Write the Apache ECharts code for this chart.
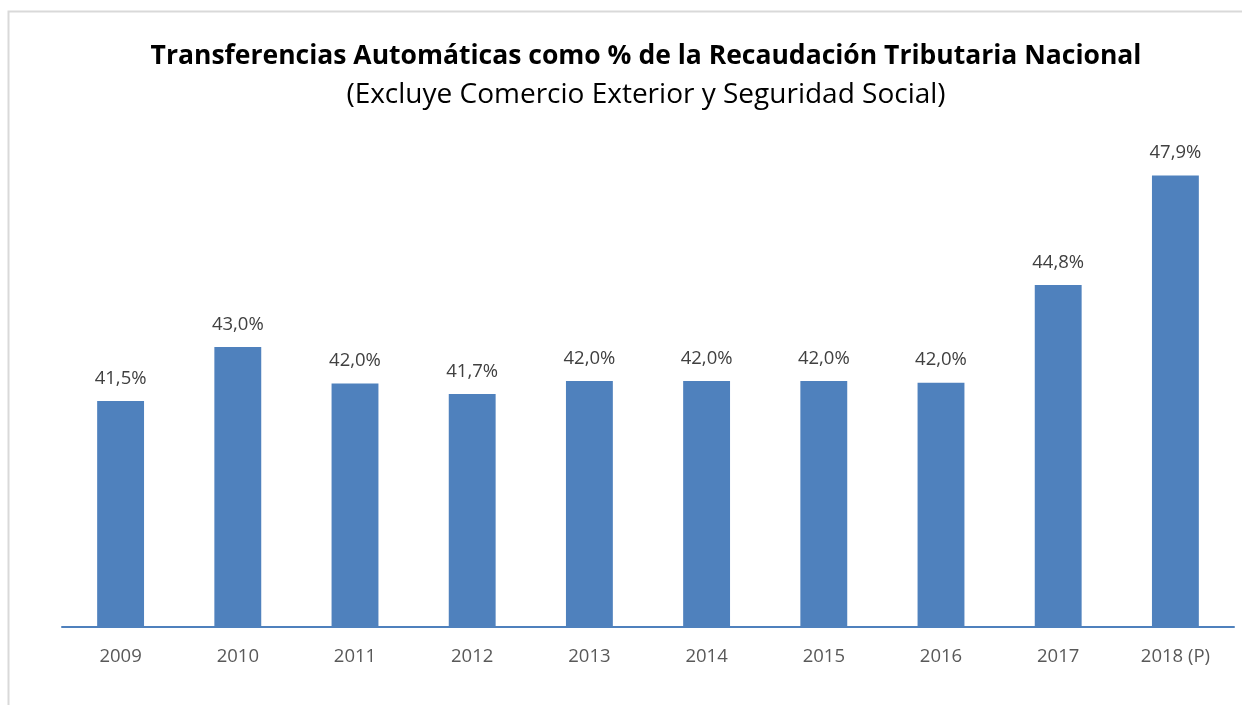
<!DOCTYPE html>
<html>
<head>
<meta charset="utf-8">
<script src="https://cdn.jsdelivr.net/npm/echarts@6/dist/echarts.min.js"></script>
<style>
html,body{margin:0;padding:0;background:#fff;}
#main{width:1242px;height:705px;}
</style>
</head>
<body>
<div id="main"></div>
<script>
// 年份 / 数值
var years = ['2009', '2010', '2011', '2012', '2013', '2014', '2015', '2016', '2017', '2018 (P)'];
var values = [41.46, 43.0, 41.96, 41.66, 42.03, 42.03, 42.03, 41.98, 44.77, 47.9];
var titleText = 'Transferencias Automáticas como % de la Recaudación Tributaria Nacional';
var subText = '(Excluye Comercio Exterior y Seguridad Social)';

var myChart = echarts.init(document.getElementById('main'));
var option = {
	backgroundColor: '#fff',
	animation: false,
	graphic: [{
		type: 'rect',
		shape: {x: 8.5, y: 11.5, width: 1300, height: 800},
		style: {fill: 'none', stroke: '#d9d9d9', lineWidth: 2}
	}],
	title: [{
		text: titleText,
		left: 641,
		textAlign: 'center',
		top: 38,
		textStyle: {
			fontFamily: 'Open Sans',
			fontWeight: 'bold',
			fontSize: 26.5,
			color: '#000'
		}
	}, {
		text: subText,
		left: 641,
		textAlign: 'center',
		top: 76,
		textStyle: {
			fontFamily: 'Open Sans',
			fontWeight: 'normal',
			fontSize: 28,
			color: '#000'
		}
	}],
	grid: {
		left: 62,
		right: 8,
		top: 102,
		bottom: 78
	},
	xAxis: {
		type: 'category',
		data: years,
		axisTick: {show: false},
		axisLine: {
			lineStyle: {color: '#4F81BD', width: 2}
		},
		axisLabel: {
			color: '#595959',
			fontFamily: 'Open Sans',
			fontSize: 18.5,
			margin: 20
		}
	},
	yAxis: {
		type: 'value',
		min: 35,
		max: 50,
		show: false,
		splitLine: {show: false}
	},
	series: [{
		type: 'bar',
		data: values,
		barWidth: '40%',
		itemStyle: {color: '#4F81BD'},
		label: {
			show: true,
			position: 'top',
			distance: 13,
			color: '#404040',
			fontFamily: 'Open Sans',
			fontSize: 18.5,
			formatter: function (p) {
				return p.value.toFixed(1).replace('.', ',') + '%';
			}
		}
	}]
};
myChart.setOption(option);
</script>
</body>
</html>
